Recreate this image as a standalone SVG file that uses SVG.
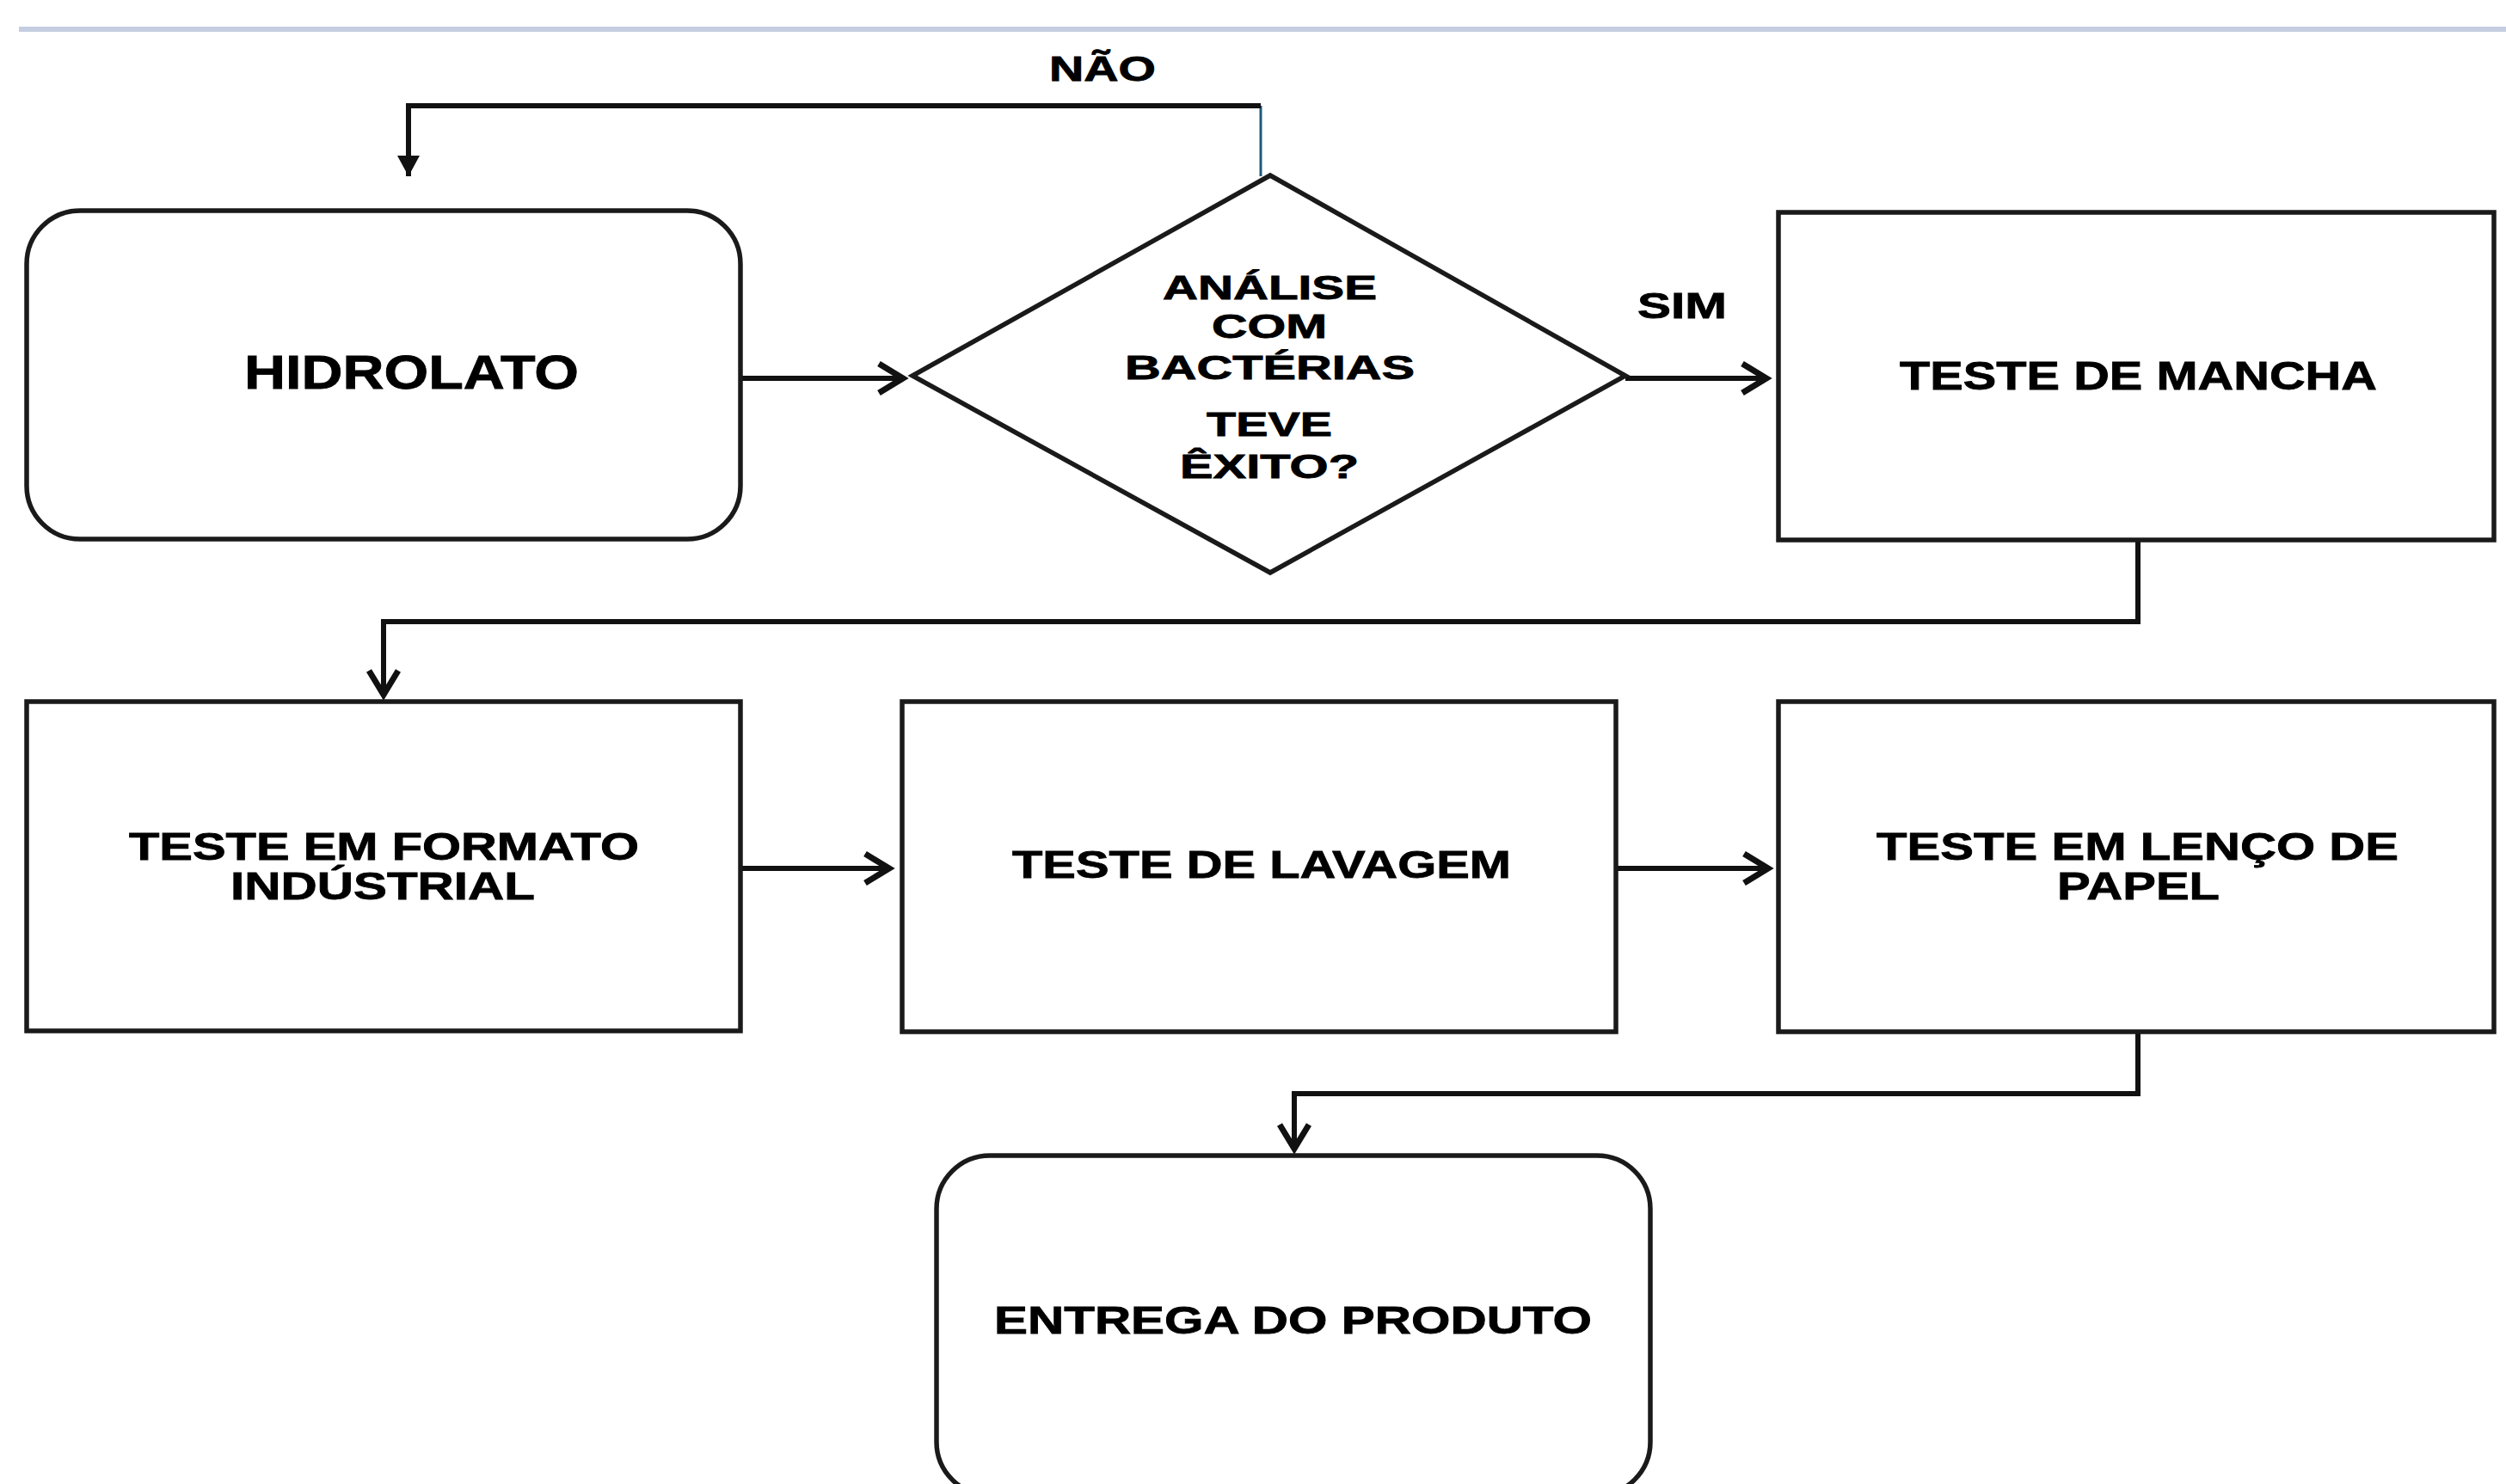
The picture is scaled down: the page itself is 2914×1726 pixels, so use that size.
<svg xmlns="http://www.w3.org/2000/svg" width="2914" height="1726" viewBox="0 0 2914 1726">
<style>
.box{fill:#fff;stroke:#1a1a1a;stroke-width:5.5}
.lbl{font-family:"Liberation Sans",Arial,sans-serif;font-weight:bold;fill:#000;stroke:#000;stroke-width:0.8}
.con{fill:none;stroke:#111;stroke-width:6}
</style>
<defs>
<marker id="chev" markerUnits="userSpaceOnUse" markerWidth="44" markerHeight="50" refX="34" refY="22" orient="auto">
<path d="M6,5 L34,22 L6,39" fill="none" stroke="#111" stroke-width="7"/>
</marker>
<marker id="tri" markerUnits="userSpaceOnUse" markerWidth="30" markerHeight="30" refX="24" refY="13" orient="auto">
<path d="M0,0 L24,13 L0,26 Z" fill="#111"/>
</marker>
</defs>
<rect x="22" y="31" width="2892" height="6" fill="#c5cde0"/>
<g id="connectors">
<line x1="1466" y1="123" x2="1466" y2="205" stroke="#1f5a7a" stroke-width="3"/>
<path class="con" d="M1466,123 H475 V205" marker-end="url(#tri)"/>
<path class="con" d="M861,440 H1050" marker-end="url(#chev)"/>
<path class="con" d="M1890,440 H2054" marker-end="url(#chev)"/>
<path class="con" d="M2486,628 V723 H446 V808" marker-end="url(#chev)"/>
<path class="con" d="M861,1010 H1034" marker-end="url(#chev)"/>
<path class="con" d="M1879,1010 H2056" marker-end="url(#chev)"/>
<path class="con" d="M2486,1200 V1272 H1505 V1336" marker-end="url(#chev)"/>
<text class="lbl" x="1220" y="94" font-size="40" textLength="124" lengthAdjust="spacingAndGlyphs">NÃO</text>
<text class="lbl" x="1904" y="370" font-size="43" textLength="104" lengthAdjust="spacingAndGlyphs">SIM</text>
</g>
<g id="hidrolato">
<rect class="box" x="31" y="245" width="830" height="382" rx="62"/>
<text class="lbl" x="284" y="452" font-size="56" textLength="389" lengthAdjust="spacingAndGlyphs">HIDROLATO</text>
</g>
<g id="analise">
<polygon class="box" points="1477,204 1890,437 1477,666 1061,437"/>
<text class="lbl" x="1352" y="348" font-size="38" textLength="249" lengthAdjust="spacingAndGlyphs">ANÁLISE</text>
<text class="lbl" x="1409" y="393" font-size="38" textLength="134" lengthAdjust="spacingAndGlyphs">COM</text>
<text class="lbl" x="1308" y="441" font-size="38" textLength="337" lengthAdjust="spacingAndGlyphs">BACTÉRIAS</text>
<text class="lbl" x="1403" y="507" font-size="38" textLength="146" lengthAdjust="spacingAndGlyphs">TEVE</text>
<text class="lbl" x="1372" y="556" font-size="38" textLength="208" lengthAdjust="spacingAndGlyphs">ÊXITO?</text>
</g>
<g id="mancha">
<rect class="box" x="2068" y="247" width="832" height="381"/>
<text class="lbl" x="2209" y="453" font-size="46" textLength="555" lengthAdjust="spacingAndGlyphs">TESTE DE MANCHA</text>
</g>
<g id="formato">
<rect class="box" x="31" y="816" width="830" height="383"/>
<text class="lbl" x="150" y="1000" font-size="45" textLength="593" lengthAdjust="spacingAndGlyphs">TESTE EM FORMATO</text>
<text class="lbl" x="268" y="1046" font-size="45" textLength="354" lengthAdjust="spacingAndGlyphs">INDÚSTRIAL</text>
</g>
<g id="lavagem">
<rect class="box" x="1049" y="816" width="830" height="384"/>
<text class="lbl" x="1177" y="1021" font-size="44" textLength="580" lengthAdjust="spacingAndGlyphs">TESTE DE LAVAGEM</text>
</g>
<g id="lenco">
<rect class="box" x="2068" y="816" width="832" height="384"/>
<text class="lbl" x="2182" y="1000" font-size="45" textLength="607" lengthAdjust="spacingAndGlyphs">TESTE EM LENÇO DE</text>
<text class="lbl" x="2392" y="1046" font-size="45" textLength="189" lengthAdjust="spacingAndGlyphs">PAPEL</text>
</g>
<g id="entrega">
<rect class="box" x="1089" y="1344" width="830" height="395" rx="62"/>
<text class="lbl" x="1156" y="1551" font-size="45" textLength="695" lengthAdjust="spacingAndGlyphs">ENTREGA DO PRODUTO</text>
</g>
</svg>
